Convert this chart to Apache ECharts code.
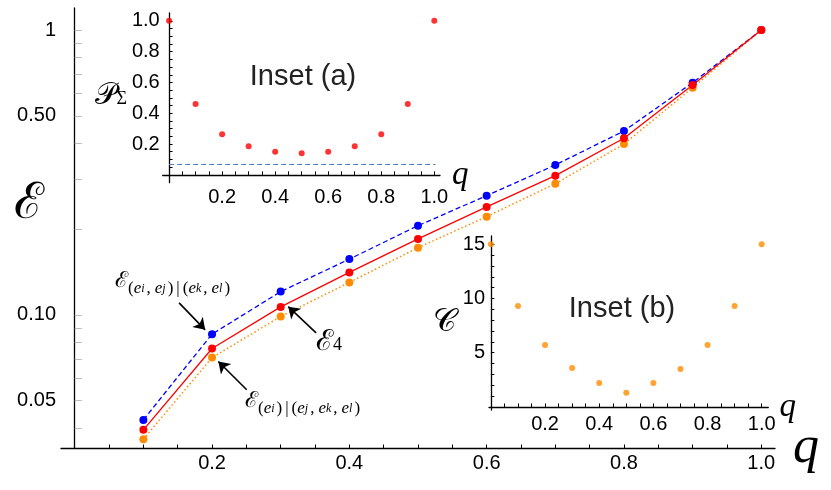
<!DOCTYPE html>
<html>
<head>
<meta charset="utf-8">
<script src="https://cdn.jsdelivr.net/npm/echarts@6/dist/echarts.min.js"></script>
<style>
html, body { margin: 0; padding: 0; background: #fff; }
#chart { width: 831px; height: 490px; }
</style>
</head>
<body>
<div id="chart"></div>
<script>
// main plot: entanglement measures vs q (log scale)
var qValues = [0.1, 0.2, 0.3, 0.4, 0.5, 0.6, 0.7, 0.8, 0.9, 1.0];
var entPairPair = [0.0428, 0.0856, 0.1207, 0.157, 0.2057, 0.2622, 0.336, 0.4422, 0.6535, 1.0];
var entFour = [0.0395, 0.0762, 0.1067, 0.141, 0.1848, 0.2393, 0.3082, 0.4169, 0.6412, 1.0];
var entSingleTriple = [0.0366, 0.0708, 0.0987, 0.130, 0.1722, 0.2213, 0.2888, 0.3981, 0.6274, 1.0];

// insets
var insetQ = [0, 0.1, 0.2, 0.3, 0.4, 0.5, 0.6, 0.7, 0.8, 0.9, 1.0];
var probSum = [1.0, 0.46, 0.263, 0.185, 0.150, 0.140, 0.150, 0.185, 0.263, 0.46, 1.0];
var probThreshold = 0.0656;
var costC = [15, 9.31, 5.71, 3.59, 2.21, 1.32, 2.21, 3.5, 5.71, 9.31, 15];

// ticks and labels
var qLabels = [0.2, 0.4, 0.6, 0.8, 1.0];
var qTicks = [0.05, 0.1, 0.15, 0.2, 0.25, 0.3, 0.35, 0.4, 0.45, 0.5, 0.55, 0.6, 0.65, 0.7, 0.75, 0.8, 0.85, 0.9, 0.95, 1.0];
var entLabels = [0.05, 0.1, 0.5, 1];
var entTicks = [0.04, 0.05, 0.06, 0.07, 0.08, 0.09, 0.1, 0.2, 0.3, 0.4, 0.5, 0.6, 0.7, 0.8, 0.9, 1];
var probLabels = [0.2, 0.4, 0.6, 0.8, 1.0];
var probTicks = [0.05, 0.1, 0.15, 0.2, 0.25, 0.3, 0.35, 0.4, 0.45, 0.5, 0.55, 0.6, 0.65, 0.7, 0.75, 0.8, 0.85, 0.9, 0.95, 1.0];
var costLabels = [5, 10, 15];
var costTicks = [1, 2, 3, 4, 5, 6, 7, 8, 9, 10, 11, 12, 13, 14, 15];

var sans = "'Liberation Sans', Arial, sans-serif";
var serif = "'Liberation Serif', 'DejaVu Serif', serif";
var mathFont = "'DejaVu Serif', serif";

function log10(v) { return Math.log(v) / Math.LN10; }
function toPairs(xs, ys, f) {
    return xs.map(function (x, i) { return [x, f ? f(ys[i]) : ys[i]]; });
}
function fixed1(v) { return v.toFixed(1); }

var axisLineStyle = { color: '#000', width: 1.3 };
var labelStyle = { color: '#000', fontSize: 20, fontFamily: sans };

function qAxis(grid, min, max, onZero, margin, nameGap, nameSize, namePad) {
    return {
        gridIndex: grid, type: 'value', min: min, max: max, position: 'bottom',
        axisLine: { show: true, onZero: onZero, lineStyle: axisLineStyle },
        axisTick: { show: true, inside: true, length: 3.5, customValues: qTicks, lineStyle: { color: '#000', width: 1 } },
        axisLabel: Object.assign({ customValues: qLabels, formatter: fixed1, margin: margin }, labelStyle),
        splitLine: { show: false },
        name: 'q', nameLocation: 'end', nameGap: nameGap,
        nameTextStyle: { fontFamily: serif, fontStyle: 'italic', fontSize: nameSize, color: '#000', padding: namePad }
    };
}

// rich styles for the subscripted labels
var subRich = {
    E: { fontFamily: mathFont, fontSize: 22, lineHeight: 26, verticalAlign: 'top', color: '#000' },
    p: { fontFamily: serif, fontSize: 17, lineHeight: 26, padding: [10, 0, 0, 0], verticalAlign: 'top', color: '#000' },
    c: { fontFamily: serif, fontSize: 17, lineHeight: 26, padding: [10, 4, 0, 0], verticalAlign: 'top', color: '#000' },
    b: { fontFamily: serif, fontSize: 17, lineHeight: 26, padding: [10, 3, 0, 3], verticalAlign: 'top', color: '#000' },
    e: { fontFamily: serif, fontStyle: 'italic', fontSize: 17, lineHeight: 26, padding: [10, 0, 0, 0], verticalAlign: 'top', color: '#000' },
    t: { fontFamily: serif, fontStyle: 'italic', fontSize: 12, lineHeight: 26, padding: [13, 2, 0, 0], verticalAlign: 'top', color: '#000' }
};

var chart = echarts.init(document.getElementById('chart'));

chart.setOption({
    animation: false,
    backgroundColor: '#fff',
    grid: [
        { left: 61, right: 56, top: 8, bottom: 42, containLabel: false, outerBoundsMode: 'none' },
        { left: 162.7, right: 391, top: 13, bottom: 307.3, containLabel: false, outerBoundsMode: 'none' },
        { left: 489, right: 62.7, top: 236, bottom: 80, containLabel: false, outerBoundsMode: 'none' }
    ],
    xAxis: [
        qAxis(0, -0.02, 1.02, false, 5, 18, 52, [0, 0, 0, 0]),
        qAxis(1, -0.024, 1.0215, true, 5, 10, 33, [10, 0, 0, 0]),
        qAxis(2, -0.007, 1.0244, true, 4, 10, 33, [6, 0, 0, 0])
    ],
    yAxis: [
        {
            gridIndex: 0, type: 'value', min: log10(0.0341), max: log10(1.195),
            axisLine: { show: true, onZero: true, lineStyle: axisLineStyle },
            axisTick: { show: true, inside: true, length: 7, customValues: entTicks.map(log10), lineStyle: { color: '#bbbbbb', width: 1 } },
            axisLabel: Object.assign({
                customValues: entLabels.map(log10), margin: 5,
                formatter: function (v) { var x = Math.pow(10, v); return x > 0.99 ? '1' : x.toFixed(2); }
            }, labelStyle),
            splitLine: { show: false }
        },
        {
            gridIndex: 1, type: 'value', min: -0.051, max: 1.051,
            axisLine: { show: true, onZero: true, lineStyle: axisLineStyle },
            axisTick: { show: true, inside: true, length: 3.5, customValues: probTicks, lineStyle: { color: '#000', width: 1 } },
            axisLabel: Object.assign({ customValues: probLabels, formatter: fixed1, margin: 3 }, labelStyle),
            splitLine: { show: false },
            name: '{P|𝒫}{s|Σ}', nameLocation: 'middle', nameRotate: 0, nameGap: 32,
            nameTextStyle: {
                color: '#000',
                rich: {
                    P: { fontFamily: mathFont, fontSize: 30, lineHeight: 34, verticalAlign: 'top', color: '#000' },
                    s: { fontFamily: serif, fontSize: 18, lineHeight: 34, padding: [9, 0, 0, 0], verticalAlign: 'top', color: '#000' }
                }
            }
        },
        {
            gridIndex: 2, type: 'value', min: -0.28, max: 15.76,
            axisLine: { show: true, onZero: true, lineStyle: axisLineStyle },
            axisTick: { show: true, inside: true, length: 3.5, customValues: costTicks, lineStyle: { color: '#000', width: 1 } },
            axisLabel: Object.assign({ customValues: costLabels, margin: 4 }, labelStyle),
            splitLine: { show: false },
            name: '𝒞', nameLocation: 'middle', nameRotate: 0, nameGap: 33,
            nameTextStyle: { fontFamily: mathFont, fontSize: 32, color: '#000' }
        }
    ],
    series: [
        {
            name: 'pair|pair', type: 'line', xAxisIndex: 0, yAxisIndex: 0,
            data: toPairs(qValues, entPairPair, log10),
            symbol: 'circle', symbolSize: 8,
            itemStyle: { color: '#0000ff' },
            lineStyle: { color: '#0000ff', width: 1.3, type: [5, 3] }
        },
        {
            name: 'single|triple', type: 'line', xAxisIndex: 0, yAxisIndex: 0,
            data: toPairs(qValues, entSingleTriple, log10),
            symbol: 'circle', symbolSize: 8,
            itemStyle: { color: '#ff8c00' },
            lineStyle: { color: '#ff8c00', width: 1.5, type: [1.5, 2.5] }
        },
        {
            name: 'E4', type: 'line', xAxisIndex: 0, yAxisIndex: 0,
            data: toPairs(qValues, entFour, log10),
            symbol: 'circle', symbolSize: 8,
            itemStyle: { color: '#ff0000' },
            lineStyle: { color: '#ff0000', width: 1.3 },
            markLine: {
                silent: true, symbol: ['none', 'arrow'], symbolSize: 11,
                label: { show: false },
                lineStyle: { color: '#000', width: 1.6, type: 'solid' },
                data: [
                    [{ coord: [0.152, log10(0.1102)] }, { coord: [0.190, log10(0.0886)] }],
                    [{ coord: [0.3516, log10(0.0865)] }, { coord: [0.311, log10(0.1069)] }],
                    [{ coord: [0.2505, log10(0.0546)] }, { coord: [0.2092, log10(0.0686)] }]
                ]
            }
        },
        {
            name: 'P sum', type: 'scatter', xAxisIndex: 1, yAxisIndex: 1,
            data: toPairs(insetQ, probSum),
            symbol: 'circle', symbolSize: 6,
            itemStyle: { color: '#ff0000' },
            markLine: {
                silent: true, symbol: 'none', label: { show: false },
                lineStyle: { color: '#5b7fc4', width: 1, type: [5, 3] },
                data: [[{ coord: [0, probThreshold] }, { coord: [1.005, probThreshold] }]]
            }
        },
        {
            name: 'C', type: 'scatter', xAxisIndex: 2, yAxisIndex: 2,
            data: toPairs(insetQ, costC),
            symbol: 'circle', symbolSize: 6,
            itemStyle: { color: '#ff8c00' }
        }
    ],
    graphic: [
        {
            type: 'text', x: 29, y: 205,
            style: { text: 'ℰ', fontFamily: mathFont, fontSize: 50, fill: '#000', align: 'center', verticalAlign: 'middle' }
        },
        {
            type: 'text', x: 303, y: 77,
            style: { text: 'Inset (a)', fontFamily: sans, fontSize: 29, fill: '#222', align: 'center', verticalAlign: 'middle' }
        },
        {
            type: 'text', x: 622, y: 309,
            style: { text: 'Inset (b)', fontFamily: sans, fontSize: 29, fill: '#222', align: 'center', verticalAlign: 'middle' }
        },
        {
            type: 'text', x: 115, y: 270,
            style: {
                text: '{E|ℰ}{p|(}{e|e}{t|i}{c|,}{e|e}{t|j}{p|)}{b||}{p|(}{e|e}{t|k}{c|,}{e|e}{t|l}{p|)}',
                rich: subRich, align: 'left', verticalAlign: 'top'
            }
        },
        {
            type: 'text', x: 245, y: 390,
            style: {
                text: '{E|ℰ}{p|(}{e|e}{t|i}{p|)}{b||}{p|(}{e|e}{t|j}{c|,}{e|e}{t|k}{c|,}{e|e}{t|l}{p|)}',
                rich: subRich, align: 'left', verticalAlign: 'top'
            }
        },
        {
            type: 'text', x: 316, y: 328,
            style: {
                text: '{E|ℰ}{s|4}',
                rich: {
                    E: { fontFamily: mathFont, fontSize: 29, lineHeight: 34, verticalAlign: 'top', fill: '#000' },
                    s: { fontFamily: serif, fontSize: 18, lineHeight: 34, padding: [8, 0, 0, 0], verticalAlign: 'top', fill: '#000' }
                },
                align: 'left', verticalAlign: 'top'
            }
        }
    ]
});
</script>
</body>
</html>
